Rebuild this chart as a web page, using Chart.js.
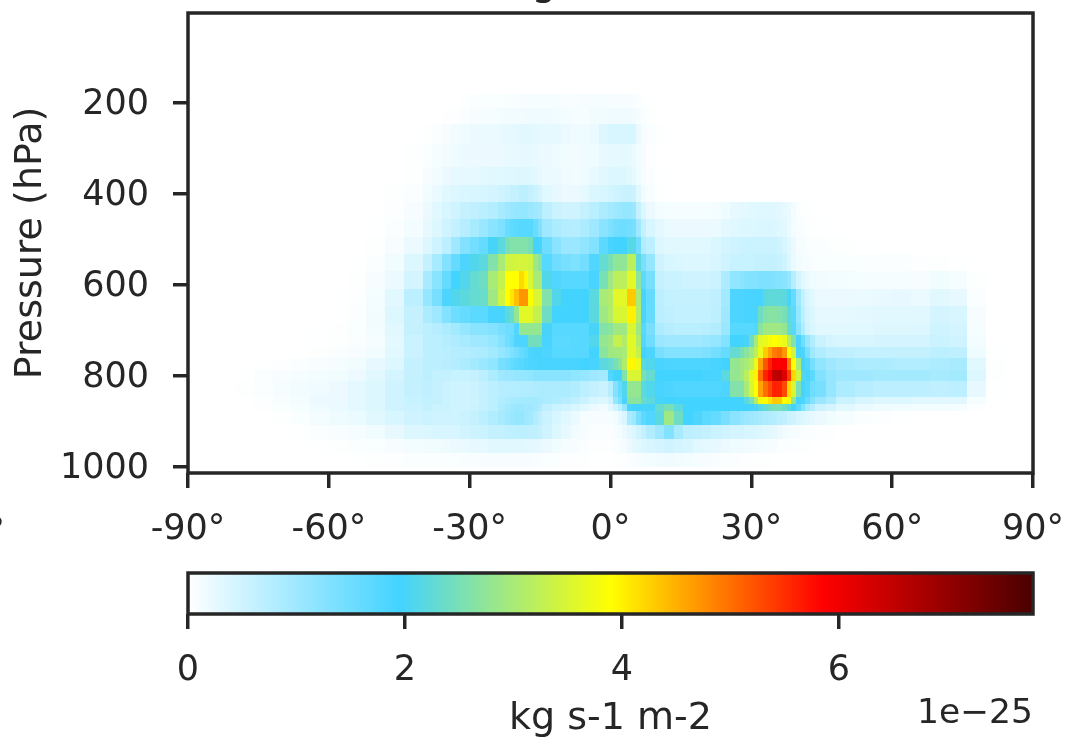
<!DOCTYPE html>
<html>
<head>
<meta charset="utf-8">
<title>Pressure vs latitude</title>
<script src="https://cdn.jsdelivr.net/npm/chart.js@4"></script>
<style>
  html, body { margin: 0; padding: 0; background: #fff; overflow: hidden; }
  canvas { position: absolute; left: 0; display: block; }
  #mainChart { top: 0; }
  #barChart { top: 540px; }
</style>
</head>
<body>
<canvas id="mainChart" width="1068" height="540"></canvas>
<canvas id="barChart" width="1068" height="198"></canvas>
<script>
const latTicks = [-90, -60, -30, 0, 30, 60, 90];
const pressureTicks = [200, 400, 600, 800, 1000];
const barTicks = [0, 2, 4, 6];

// colour map, values in units of 1e-25
const cmapStops = [0, 1.95, 3.9, 5.85, 7.79];
const cmapColors = ["#ffffff", "#43d3ff", "#ffff00", "#ff0000", "#4a0000"];

// cell edges: latitude (degrees) and pressure (hPa)
const latEdges = [-80, -76, -72, -68, -64, -60, -56, -52, -48, -44,
  -40, -38, -36, -34, -32, -30, -28, -26, -24,
  -22.5, -21.5, -20.5, -19.5, -18.5, -17.5, -16.5, -15.5,
  -14.5, -12.5, -10.5, -8.5, -6.5, -4.5, -2.5,
  -0.5, 0.5, 1.5, 2.5, 3.5, 4.5, 5.5, 6.5,
  7.5, 9.5, 11.5, 13.5, 15.5, 17.5, 19.5, 21.5, 23.5, 25.5,
  27.5, 28.5, 29.5, 30.5, 31.5, 32.5, 33.5, 34.5, 35.5, 36.5, 37.5, 38.5, 39.5, 40.5, 41.5, 42.5,
  43.5, 46, 48, 52, 56, 60, 64, 68, 72, 76, 80, 84];
const pressureEdges = [180, 211, 246, 290, 341, 380, 418, 455, 494, 532, 569, 609, 646, 684,
  710, 736, 760, 787, 811, 846, 862, 877, 908, 938, 969, 1000];

// values per pressure band, one per latitude cell, south to north
const p195 = [0,0,0,0,0,0,0,0,0,0, 0,0,0,0,.02,.05,.05,.06, .06, .07,.07,.07,.08,.08,.09,.09,.1, .09,.08,.07,.07,.08,.09,.09, .09,.08,.08,.08,.08,.07,.05,.03, .01,0,0,0,0,0,0,0,0,0, 0,0,0,0,0,0,0,0,0,0,0,0,0,0,0,0, 0,0, 0,0,0,0,0,0,0,0,0];
const p228 = [0,0,0,0,0,0,0,0,0,0, 0,0,.02,.03,.05,.08,.09,.1, .12, .13,.13,.13,.14,.16,.17,.17,.16, .16,.15,.12,.1,.1,.14,.15, .16,.16,.16,.16,.16,.14,.1,.06, .02,0,0,0,0,0,0,0,0,0, 0,0,0,0,0,0,0,0,0,0,0,0,0,0,0,0, 0,0, 0,0,0,0,0,0,0,0,0];
const p268 = [0,0,0,0,0,0,0,0,0,0, .02,.05,.08,.14,.18,.2,.22,.22, .24, .26,.26,.28,.3,.3,.3,.28,.26, .27,.26,.2,.18,.16,.22,.34, .4,.42,.42,.42,.42,.42,.2,.1, .05,.02,0,0,0,0,0,0,0,0, 0,0,0,0,0,0,0,0,0,0,0,0,0,0,0,0, 0,0, 0,0,0,0,0,0,0,0,0];
const p316 = [0,0,0,0,0,0,0,0,0,.02, .06,.1,.14,.18,.2,.2,.2,.2, .22, .24,.24,.24,.25,.25,.25,.24,.22, .2,.18,.15,.14,.16,.18,.24, .26,.27,.27,.28,.25,.22,.15,.08, .03,0,0,0,0,0,0,0,0,0, 0,0,0,0,0,0,0,0,0,0,0,0,0,0,0,0, 0,0, 0,0,0,0,0,0,0,0,0];
const p360 = [0,0,0,0,0,0,0,0,0,.02, .08,.13,.2,.26,.27,.27,.29,.3, .32, .33,.33,.34,.34,.34,.33,.3,.26, .22,.2,.16,.15,.18,.24,.3, .34,.36,.36,.34,.3,.26,.18,.1, .04,.01,0,0,0,0,0,0,0,0, 0,0,0,0,0,0,0,0,0,0,0,0,0,0,0,0, 0,0, 0,0,0,0,0,0,0,0,0];
const p399 = [0,0,0,0,0,0,0,0,.02,.05, .15,.22,.3,.36,.38,.4,.42,.45, .5, .55,.6,.62,.68,.68,.6,.55,.45, .32,.25,.2,.2,.27,.38,.42, .46,.5,.52,.56,.56,.52,.3,.15, .07,.02,0,0,0,0,0,0,0,0, 0,0,0,0,0,0,0,0,0,0,0,0,0,0,0,0, 0,0, 0,0,0,0,0,0,0,0,0];
const p436 = [0,0,0,0,0,0,0,0,.03,.08, .2,.3,.42,.5,.6,.65,.72,.78, .9, 1,1.05,1.1,1.1,1.1,1.05,1,.95, .7,.55,.5,.5,.6,.72,.85, .95,1,1.05,1.1,1.1,1.05,.6,.35, .2,.12,.1,.1,.1,.1,.1,.12,.18,.25, .28,.28,.3,.32,.33,.33,.33,.33,.3,.27,.2,.12,.06,.03,.02,.01, 0,0, 0,0,0,0,0,0,0,0,0];
const p475 = [0,0,0,0,0,0,0,.01,.05,.12, .25,.35,.5,.6,.75,.9,1.05,1.2, 1.35, 1.55,1.65,1.7,1.75,1.75,1.75,1.55,1.35, 1,.85,.78,.75,.85,1,1.2, 1.35,1.45,1.5,1.5,1.45,1.4,1,.6, .4,.28,.22,.2,.2,.2,.2,.22,.28,.32, .35,.35,.36,.37,.38,.38,.38,.37,.33,.3,.22,.12,.07,.05,.03,.02, .01,.01, 0,0,0,0,0,0,0,0,0];
const p513 = [0,0,0,0,0,0,0,.02,.08,.2, .35,.5,.7,1,1.3,1.45,1.6,2, 2.2, 2.5,2.6,2.6,2.6,2.6,2.5,1.95,1.9, 1.5,1.2,1.05,1.05,1.15,1.3,1.7, 1.9,1.95,1.95,1.95,2.15,2.15,1.5,.8, .7,.35,.3,.3,.3,.3,.32,.38,.45,.5, .55,.55,.55,.55,.55,.55,.55,.55,.5,.42,.3,.2,.1,.08,.05,.05, .04,.03, .02,.01,0,0,0,0,0,0,0];
const p551 = [0,0,0,0,0,0,.01,.05,.15,.35, .6,.9,1.3,1.6,1.85,2.1,2.2,2.6, 3, 3.4,3.4,3.45,3.45,3.45,3.4,2.9,2.7, 1.75,1.5,1.4,1.35,1.45,1.8,2.3, 2.5,2.75,2.75,2.75,3.2,3.2,2.2,1.4, 1.1,.5,.42,.38,.36,.36,.36,.4,.5,.58, .58,.58,.58,.6,.6,.6,.6,.6,.58,.5,.35,.22,.15,.1,.08,.07, .06,.06, .06,.05,.05,.05,.03,.02,.01,0,0];
const p589 = [0,0,0,0,0,0,.02,.08,.2,.45, .9,1.2,1.6,1.95,2.1,2.3,2.4,3, 3.3, 3.9,3.9,3.9,4.2,3.95,3.5,3,3, 2.1,1.8,1.75,1.75,1.75,1.9,2.5, 2.9,3.2,3.2,3.2,3.6,3.6,2.7,1.7, 1.4,.6,.55,.55,.5,.5,.5,.55,.85,1.15, 1.2,1.25,1.3,1.3,1.35,1.35,1.35,1.3,1.25,1.2,1.1,.75,.45,.3,.22,.18, .14,.12, .12,.1,.1,.1,.08,.15,.1,.02,0];
const p627 = [0,0,0,0,0,.01,.03,.12,.3,.7, 1.1,1.4,1.85,2.1,2.2,2.3,2.35,2.9, 3.4, 3.9,4.1,4.4,4.7,4.7,3.9,3.5,3.5, 2.6,2.1,1.95,1.95,1.95,2.2,3, 3.1,3.6,3.6,3.6,4.3,4.3,3,1.9, 1.6,.7,.62,.6,.6,.6,.6,.65,.95,1.85, 1.85,1.9,1.9,1.9,1.9,2.2,2.25,2.25,2.25,2.2,2,1.6,1,.6,.4,.3, .22,.2, .2,.22,.24,.25,.22,.3,.25,.05,0];
const p665 = [0,0,0,0,0,.01,.04,.14,.35,.6, .85,1,1.3,1.5,1.6,1.7,1.7,1.9, 2, 2.2,2.3,2.8,3.6,3.6,3.6,3.3,3.3, 2.4,1.95,1.95,1.95,1.95,2.2,2.9, 3.1,3.5,3.5,3.5,4,4,3.1,1.9, 1.6,.72,.65,.62,.62,.62,.62,.68,1,1.85, 1.85,1.9,1.9,1.9,2.4,2.6,2.65,2.65,2.6,2.5,2.2,1.7,1.1,.7,.45,.35, .26,.26, .26,.28,.3,.3,.3,.45,.4,.08,0];
const p697 = [0,0,0,0,.01,.02,.06,.14,.3,.6, .7,.75,.85,.95,1.1,1.2,1.2,1.3, 1.4, 1.5,1.5,1.8,2.8,2.8,2.8,2.8,2.8, 2,1.75,1.75,1.75,1.75,2,2.6, 2.7,2.9,2.9,2.9,3.5,3.5,2.9,1.75, 1.4,.85,.75,.72,.72,.72,.75,.8,1.05,1.75, 1.75,1.75,1.75,1.8,2.7,2.9,2.9,2.9,2.9,2.8,2.3,1.75,1.2,.8,.5,.38, .3,.3, .3,.32,.34,.34,.36,.5,.45,.1,0];
const p723 = [0,0,0,0,.01,.02,.05,.1,.28,.55, .68,.7,.75,.82,.9,1,1,1.1, 1.25, 1.45,1.6,1.85,1.85,1.85,2.45,2.45,2.45, 1.9,1.7,1.7,1.75,1.75,2.1,2.8, 2.9,3.3,3.3,3.1,3.6,3.6,3.1,1.8, 1.5,1.05,1,1,1,1,1.05,1.1,1.3,1.95, 1.95,2,2.4,3,3.6,3.7,3.8,3.9,3.8,3.7,3.1,2.6,1.9,1.5,1.1,.8, .55,.45, .42,.42,.45,.45,.45,.55,.5,.12,0];
const p748 = [0,0,0,.01,.02,.04,.08,.15,.3,.55, .68,.7,.72,.75,.78,.82,.85,.95, 1.1, 1.2,1.35,1.45,1.6,1.7,1.85,1.9,1.9, 1.85,1.75,1.75,1.75,1.75,1.95,2.7, 2.9,2.95,2.95,3,3.6,3.6,3.3,1.95, 1.85,1.4,1.3,1.3,1.3,1.3,1.35,1.45,1.6,2.3, 2.5,2.7,2.9,3.2,3.7,4.3,4.6,4.9,5,4.7,3.9,3.4,2,1.85,1.4,1, .8,.7, .65,.62,.62,.6,.6,.7,.65,.18,.01];
const p773 = [0,.01,.03,.05,.07,.09,.15,.25,.35,.6, .68,.7,.74,.78,.85,.95,1.05,1.15, 1.4, 1.5,1.6,1.7,1.75,1.8,1.85,1.85,1.9, 1.9,1.9,1.9,1.9,1.95,1.9,2.2, 2.3,2.5,2.7,3.1,3.95,3.95,3.7,2.2, 2.1,1.9,1.85,1.85,1.85,1.85,1.85,1.9,1.95,2.8, 2.9,3,3.2,3.7,4.6,5.2,5.6,5.9,5.9,5.9,4.9,3.9,3,2,1.8,1.4, 1.15,1, .9,.85,.85,.8,.8,.85,.9,.3,.02];
const p800 = [.01,.04,.07,.1,.12,.15,.2,.3,.45,.6, .68,.62,.6,.58,.58,.6,.7,.85, 1, 1.05,1.05,1.1,1.1,1.1,1.15,1.2,1.2, 1.2,1.2,1.2,1.15,1.1,1,.95, 1.8,1.95,1.95,2.6,3.5,3.5,3.5,2.5, 2.3,1.95,1.95,1.95,1.95,1.95,1.9,1.9,2.2,2.8, 2.9,3.2,3.6,4,5,5.6,5.85,6.5,6.6,6.2,5.4,4.2,3.4,2.1,1.9,1.7, 1.3,1.1, 1,1,.95,.95,.95,.9,.95,.35,.02];
const p829 = [.02,.05,.09,.13,.17,.2,.28,.35,.5,.6, .65,.6,.55,.5,.5,.55,.6,.7, .75, .78,.78,.78,.8,.8,.8,.82,.85, .85,.85,.85,.8,.7,.6,.55, .75,1.3,1.6,2.1,2.8,2.8,2.8,2.2, 2.1,1.9,1.85,1.8,1.8,1.8,1.8,1.8,1.85,2.6, 2.6,3,3.5,3.9,4.6,5,5.3,5.6,5.6,5.3,4.2,3.5,2.5,2,1.8,1.5, 1.4,1.1, .85,.75,.7,.7,.7,.65,.7,.25,.01];
const p853 = [0,.03,.07,.12,.2,.22,.28,.35,.5,.58, .62,.6,.55,.5,.5,.52,.6,.68, .8, .85,.9,.9,.95,.95,.95,.95,.9, .85,.8,.75,.65,.55,.4,.35, .5,1.1,1.4,1.9,2.7,2.7,2.7,2.3, 2.2,2,1.95,1.95,1.95,1.95,1.95,1.95,1.95,1.95, 1.95,2.2,2.5,3.1,3.8,3.9,4.1,4.3,4.3,3.9,3.8,2.8,1.95,1.85,1.6,1.3, 1.05,.85, .55,.4,.35,.35,.3,.3,.3,.1,0];
const p869 = [0,.02,.06,.1,.18,.22,.28,.35,.5,.55, .6,.55,.55,.5,.5,.55,.6,.7, .85, .95,1,1.05,1.05,1,1,.95,.85, .65,.55,.5,.4,.3,.2,.15, .3,.5,.7,1.1,1.9,1.95,1.95,2, 2,2.3,2.5,2.2,1.95,1.95,1.95,1.95,1.95,1.95, 1.95,1.95,1.95,2,2.15,2.3,2.4,2.5,2.5,2.4,2.2,1.95,1.7,1.3,.95,.75, .55,.45, .3,.22,.18,.15,.12,.12,.1,.03,0];
const p892 = [0,0,.02,.06,.12,.18,.22,.3,.4,.5, .55,.5,.5,.5,.55,.6,.7,.8, .9, 1,1.05,1.1,1.1,1,.95,.8,.7, .55,.4,.3,.22,.1,.08,.08, .1,.15,.25,.4,.9,1,1.4,1.7, 1.8,2.2,2.9,2.4,1.95,1.85,1.7,1.6,1.4,1.2, 1.1,1.05,1,.95,.9,.85,.8,.75,.7,.65,.55,.5,.42,.35,.3,.25, .2,.15, .1,.05,.03,.01,0,0,0,0,0];
const p923 = [0,0,0,.01,.04,.07,.1,.15,.25,.35, .38,.4,.4,.42,.48,.52,.55,.6, .62, .65,.65,.68,.68,.68,.65,.65,.6, .5,.35,.25,.15,.08,.05,.05, .05,.08,.12,.2,.3,.35,.5,.6, .8,1,1.3,.9,.7,.65,.6,.55,.5,.45, .45,.42,.4,.38,.35,.32,.3,.25,.2,.15,.12,.1,.08,.06,.05,.04, .03,.02, 0,0,0,0,0,0,0,0,0];
const p954 = [0,0,0,0,.01,.02,.04,.06,.08,.12, .15,.15,.18,.2,.22,.25,.25,.3, .3, .3,.3,.3,.3,.28,.28,.28,.25, .2,.15,.1,.08,.05,.03,.02, .03,.05,.07,.12,.2,.25,.3,.35, .4,.45,.5,.45,.4,.3,.28,.25,.2,.18, .16,.15,.14,.13,.12,.1,.1,.08,.06,.05,.04,.03,.03,.02,.02,.01, .01,0, 0,0,0,0,0,0,0,0,0];
const p985 = [0,0,0,0,0,0,.01,.02,.03,.04, .05,.05,.06,.06,.07,.07,.08,.08, .08, .08,.08,.08,.08,.08,.08,.07,.07, .06,.05,.03,.02,.02,.01,.01, .01,.02,.02,.03,.05,.07,.08,.1, .12,.14,.16,.14,.12,.1,.08,.07,.05,.04, .03,.03,.03,.02,.02,.02,.02,.01,.01,.01,.01,0,0,0,0,0, 0,0, 0,0,0,0,0,0,0,0,0];

const bands = [p195, p228, p268, p316, p360, p399, p436, p475, p513, p551, p589, p627, p665,
  p697, p723, p748, p773, p800, p829, p853, p869, p892, p923, p954, p985];

const INK = "#262626";
const TICK_FONT = { family: "'DejaVu Sans'", size: 35 };
const LABEL_FONT = { family: "'DejaVu Sans'", size: 38 };

function hexToRgb(hex) {
  return [1, 3, 5].map(i => parseInt(hex.slice(i, i + 2), 16));
}

function colorFor(v) {
  let i = 0;
  while (i < cmapStops.length - 2 && v > cmapStops[i + 1]) i++;
  const t = Math.min(1, (v - cmapStops[i]) / (cmapStops[i + 1] - cmapStops[i]));
  const a = hexToRgb(cmapColors[i]), b = hexToRgb(cmapColors[i + 1]);
  return "rgb(" + a.map((c, k) => Math.round(c + (b[k] - c) * t)).join(",") + ")";
}

const cells = [];
bands.forEach((row, r) => {
  row.forEach((v, c) => {
    cells.push({
      x: (latEdges[c] + latEdges[c + 1]) / 2,
      y: (pressureEdges[r] + pressureEdges[r + 1]) / 2,
      x0: latEdges[c], x1: latEdges[c + 1],
      y0: pressureEdges[r], y1: pressureEdges[r + 1], v: v
    });
  });
});

const heatPlugin = {
  id: "heat",
  beforeDatasetsDraw(chart) {
    const { ctx, scales: { x, y } } = chart;
    chart.data.datasets[0].data.forEach(cell => {
      if (cell.v <= 0) return;
      const left = Math.round(x.getPixelForValue(cell.x0));
      const right = Math.round(x.getPixelForValue(cell.x1));
      const top = Math.round(y.getPixelForValue(cell.y0));
      const bottom = Math.round(y.getPixelForValue(cell.y1));
      ctx.fillStyle = colorFor(cell.v);
      ctx.fillRect(left, top, right - left, bottom - top);
    });
  }
};

const barPlugin = {
  id: "bar",
  beforeDatasetsDraw(chart) {
    const { ctx, chartArea: area, scales: { x } } = chart;
    const left = x.getPixelForValue(cmapStops[0]);
    const right = x.getPixelForValue(cmapStops[cmapStops.length - 1]);
    const grad = ctx.createLinearGradient(left, 0, right, 0);
    cmapStops.forEach((s, i) => {
      grad.addColorStop((x.getPixelForValue(s) - left) / (right - left), cmapColors[i]);
    });
    ctx.fillStyle = grad;
    ctx.fillRect(area.left, area.top, area.right - area.left, area.bottom - area.top);
  }
};

const framePlugin = {
  id: "frame",
  afterDatasetsDraw(chart) {
    const { ctx, chartArea: a } = chart;
    ctx.save();
    ctx.strokeStyle = INK;
    ctx.lineWidth = 3.5;
    ctx.strokeRect(a.left, a.top, a.right - a.left, a.bottom - a.top);
    ctx.restore();
  }
};

// bits of the neighbouring text that are cut off by the picture's edge
const clippedTextPlugin = {
  id: "clipped",
  afterDraw(chart) {
    const { ctx } = chart;
    ctx.save();
    ctx.fillStyle = INK;
    ctx.font = "39px 'DejaVu Sans'";
    ctx.textAlign = "center";
    ctx.textBaseline = "alphabetic";
    ctx.fillText("g", 544, -5);
    ctx.font = "35px 'DejaVu Sans'";
    ctx.textAlign = "right";
    ctx.fillText("90°", 5, 542);
    ctx.restore();
  }
};

const offsetTextPlugin = {
  id: "offsetText",
  afterDraw(chart) {
    const { ctx } = chart;
    ctx.save();
    ctx.fillStyle = INK;
    ctx.font = "34.5px 'DejaVu Sans'";
    ctx.textAlign = "right";
    ctx.textBaseline = "alphabetic";
    ctx.fillText("1e\u221225", 1033, 183);
    ctx.restore();
  }
};

function axisTicks(values) {
  return scale => { scale.ticks = values.map(v => ({ value: v })); };
}

function noEdgePadding(scale) {
  scale.paddingLeft = scale.paddingRight = scale.paddingTop = scale.paddingBottom = 0;
}

function tickGrid() {
  return { display: true, drawOnChartArea: false, drawTicks: true, tickLength: 15, lineWidth: 3.5, color: INK, tickColor: INK };
}

new Chart(document.getElementById("mainChart"), {
  type: "scatter",
  data: { datasets: [{ data: cells, pointRadius: 0, pointHoverRadius: 0 }] },
  options: {
    responsive: false,
    animation: false,
    layout: { padding: { top: 13, right: 35, left: 0, bottom: 0 } },
    plugins: { legend: { display: false }, tooltip: { enabled: false } },
    scales: {
      x: {
        type: "linear", min: -90, max: 90,
        afterBuildTicks: axisTicks(latTicks),
        afterFit: s => { s.height = 67; noEdgePadding(s); },
        grid: tickGrid(),
        border: { display: false },
        ticks: {
          color: INK, font: TICK_FONT, padding: 21, maxRotation: 0, autoSkip: false,
          callback: v => v + "°"
        }
      },
      y: {
        type: "linear", reverse: true, min: 2, max: 1013,
        afterBuildTicks: axisTicks(pressureTicks),
        afterFit: s => { s.width = 188; noEdgePadding(s); },
        grid: tickGrid(),
        border: { display: false },
        ticks: { color: INK, font: TICK_FONT, padding: 24, labelOffset: 2, autoSkip: false, callback: v => String(v) },
        title: { display: true, text: "Pressure (hPa)", color: INK, font: LABEL_FONT, padding: { top: 8, bottom: 0 } }
      }
    }
  },
  plugins: [heatPlugin, framePlugin, clippedTextPlugin]
});

new Chart(document.getElementById("barChart"), {
  type: "scatter",
  data: { datasets: [{ data: cmapStops.map(s => ({ x: s, y: 0 })), pointRadius: 0, pointHoverRadius: 0 }] },
  options: {
    responsive: false,
    animation: false,
    layout: { padding: { top: 33, right: 35, left: 188, bottom: 0 } },
    plugins: { legend: { display: false }, tooltip: { enabled: false } },
    scales: {
      x: {
        type: "linear", min: 0, max: 7.79,
        afterBuildTicks: axisTicks(barTicks),
        afterFit: s => { s.height = 124; noEdgePadding(s); },
        grid: tickGrid(),
        border: { display: false },
        ticks: { color: INK, font: TICK_FONT, padding: 21, maxRotation: 0, autoSkip: false, callback: v => String(v) },
        title: { display: true, text: "kg s-1 m-2", color: INK, font: LABEL_FONT, padding: { top: 0, bottom: -4 } }
      },
      y: { display: false, min: -1, max: 1 }
    }
  },
  plugins: [barPlugin, framePlugin, offsetTextPlugin]
});
</script>
</body>
</html>
